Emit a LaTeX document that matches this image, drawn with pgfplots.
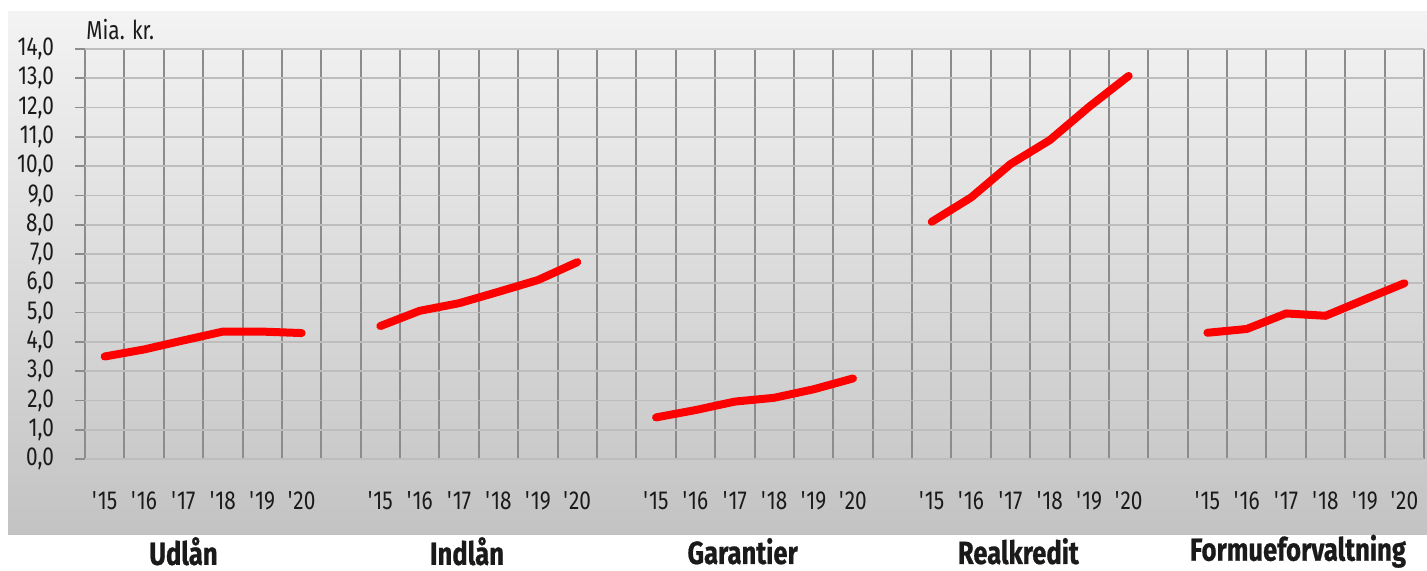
\documentclass[border=0pt]{standalone}
\usepackage{fontspec}
\setmainfont{Fira Sans}[FakeStretch=0.8, BoldFeatures={FakeBold=0.7}]
\usepackage{pgfplots}
\usepackage{pgfplotstable}
\pgfplotsset{compat=1.18}

\definecolor{bgtop}{HTML}{F3F3F3}
\definecolor{bgbot}{HTML}{C3C3C3}
\definecolor{vgrid}{HTML}{8C8C8C}
\definecolor{hgrid}{HTML}{BDBDBD}
\definecolor{txt}{HTML}{1A1A1A}

% Mia. kr., 2015-2020, one table per business area
\pgfplotstableread{
x y
0 3.50
1 3.74
2 4.05
3 4.35
4 4.35
5 4.30
}\udlaan
\pgfplotstableread{
x y
7 4.54
8 5.06
9 5.32
10 5.71
11 6.11
12 6.72
}\indlaan
\pgfplotstableread{
x y
14 1.42
15 1.67
16 1.96
17 2.09
18 2.38
19 2.75
}\garantier
\pgfplotstableread{
x y
21 8.10
22 8.93
23 10.07
24 10.89
25 12.03
26 13.08
}\realkredit
\pgfplotstableread{
x y
28 4.31
29 4.44
30 4.97
31 4.89
32 5.45
33 6.00
}\formue

\newcommand{\yr}[1]{\textquotesingle#1}

\begin{document}
\begin{tikzpicture}
\useasboundingbox (0,0) rectangle (713.5pt,285.5pt);
\shade[top color=bgtop, bottom color=bgbot] (4pt,18pt) rectangle (713.5pt,279.5pt);
\begin{axis}[
  at={(42.5pt,56pt)}, anchor=south west,
  scale only axis, width=669.5pt, height=205pt,
  xmin=-0.5, xmax=33.5, ymin=0, ymax=14,
  axis line style={draw=none},
  clip=false,
  xtick={0,1,2,3,4,5,7,8,9,10,11,12,14,15,16,17,18,19,21,22,23,24,25,26,28,29,30,31,32,33},
  xticklabels={\yr{15},\yr{16},\yr{17},\yr{18},\yr{19},\yr{20},
               \yr{15},\yr{16},\yr{17},\yr{18},\yr{19},\yr{20},
               \yr{15},\yr{16},\yr{17},\yr{18},\yr{19},\yr{20},
               \yr{15},\yr{16},\yr{17},\yr{18},\yr{19},\yr{20},
               \yr{15},\yr{16},\yr{17},\yr{18},\yr{19},\yr{20}},
  x tick style={draw=none},
  minor xtick={-0.5,0.5,...,33.5},
  minor x tick style={draw=none},
  xminorgrids=true,
  minor x grid style={vgrid, line width=1pt},
  ytick={0,1,...,14},
  ymajorgrids=true,
  major y grid style={hgrid, line width=0.8pt},
  ytick pos=left,
  y tick style={vgrid, line width=0.9pt},
  tick align=outside,
  major tick length=5pt,
  ticklabel style={font=\fontsize{13}{15}\selectfont, text=txt},
  xticklabel style={anchor=base, yshift=-20pt},
  yticklabel style={xshift=-7pt},
  /pgf/number format/.cd, fixed, fixed zerofill, precision=1, use comma, assume math mode=true,
]
\addplot[red, line width=4pt, line cap=round, line join=round] table[x=x,y=y] {\udlaan};
\addplot[red, line width=4pt, line cap=round, line join=round] table[x=x,y=y] {\indlaan};
\addplot[red, line width=4pt, line cap=round, line join=round] table[x=x,y=y] {\garantier};
\addplot[red, line width=4pt, line cap=round, line join=round] table[x=x,y=y] {\realkredit};
\addplot[red, line width=4pt, line cap=round, line join=round] table[x=x,y=y] {\formue};

\node[anchor=base west, text=txt, font=\fontsize{13}{15}\selectfont, inner sep=0pt]
  at ([xshift=0.5pt,yshift=4.5pt]rel axis cs:0,1) {Mia. kr.};

\node[text=txt, font=\fontsize{16}{18}\selectfont\bfseries, inner sep=0pt] at (axis cs:2.0,-3.15) {Udlån};
\node[text=txt, font=\fontsize{16}{18}\selectfont\bfseries, inner sep=0pt] at (axis cs:9.2,-3.15) {Indlån};
\node[text=txt, font=\fontsize{16}{18}\selectfont\bfseries, inner sep=0pt] at (axis cs:16.2,-3.15) {Garantier};
\node[text=txt, font=\fontsize{16}{18}\selectfont\bfseries, inner sep=0pt] at (axis cs:23.2,-3.15) {Realkredit};
\node[text=txt, font=\fontsize{16}{18}\selectfont\bfseries, inner sep=0pt] at (axis cs:30.3,-3.15) {Formueforvaltning};
\end{axis}
\end{tikzpicture}
\end{document}
